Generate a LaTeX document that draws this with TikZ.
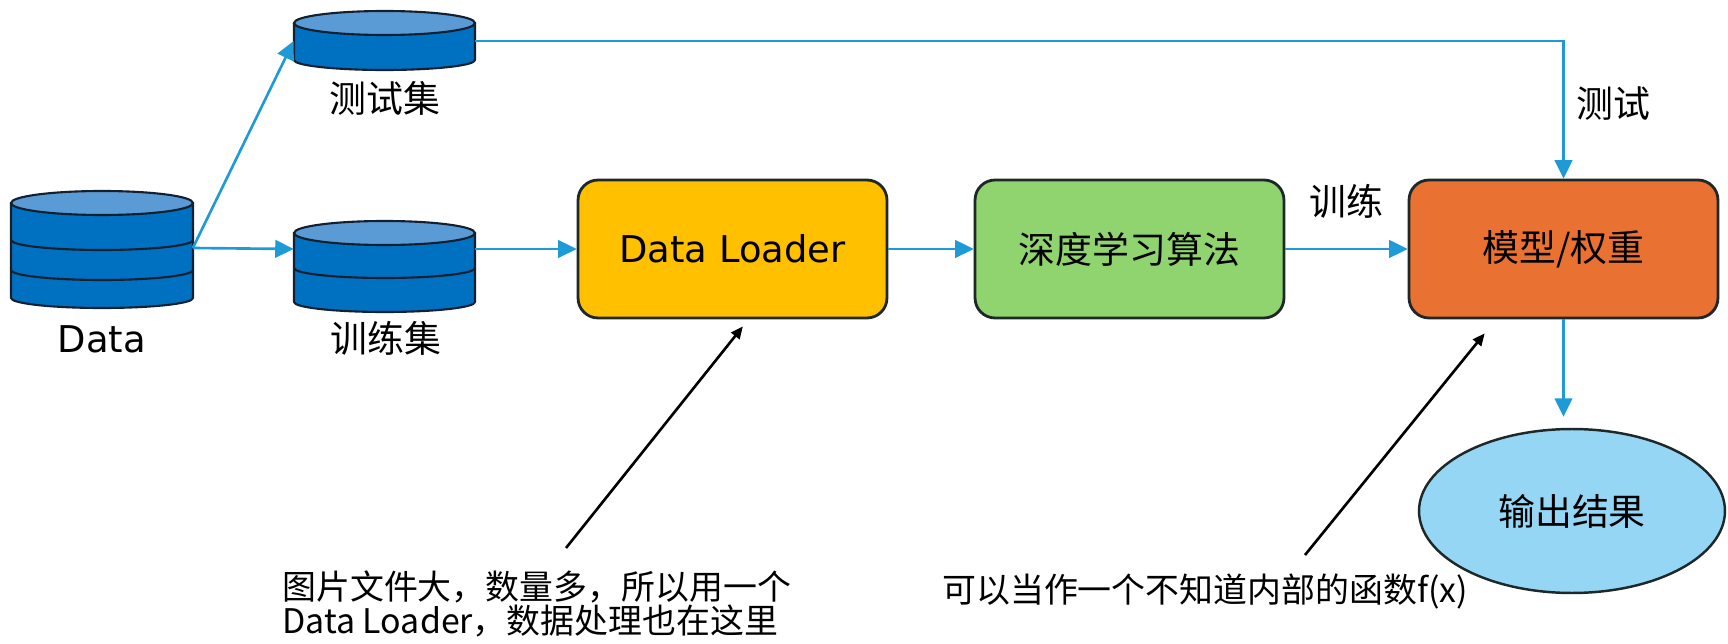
\documentclass[tikz,border=0pt]{standalone}
\usepackage{fontspec}
\setmainfont{Noto Sans CJK SC}
\newfontfamily\dejavu{DejaVu Sans}
\usepackage{tikz}
\usetikzlibrary{arrows.meta,positioning,calc,shapes.geometric}

\definecolor{dbdark}{RGB}{0,112,192}
\definecolor{dblight}{RGB}{91,155,213}
\definecolor{dbedge}{RGB}{18,32,48}
\definecolor{flowblue}{RGB}{30,155,215}
\definecolor{loaderfill}{RGB}{255,192,0}
\definecolor{algofill}{RGB}{143,212,110}
\definecolor{modelfill}{RGB}{233,113,50}
\definecolor{resultfill}{RGB}{150,214,245}
\definecolor{boxedge}{RGB}{30,40,40}

\newcommand{\bigfont}{\fontsize{21pt}{25pt}\selectfont}
\newcommand{\notefont}{\fontsize{19.3pt}{19.3pt}\selectfont}

\tikzset{
	flow/.style={draw=flowblue, line width=1.5pt, -{Triangle[length=10.5pt,width=10pt]}},
	pointer/.style={draw=black, line width=1.5pt, -{Triangle[length=7pt,width=6pt]}},
	procbox/.style={draw=boxedge, line width=1.6pt, rounded corners=0.4cm, minimum width=6.18cm, minimum height=2.76cm, inner sep=0pt, font=\bigfont},
	dbnode/.style={inner sep=0pt, minimum width=3.62cm, minimum height=1cm},
	dbline/.style={draw=dbedge, line width=1.2pt},
	lbl/.style={inner sep=0pt, font=\bigfont},
	note/.style={inner sep=0pt, align=left, anchor=west, font=\notefont},
}

% database stack: centre x, x radius, top centre y, bottom edge y
\newcommand{\dbshape}[4]{%
	\path[fill=dbdark, dbline] (#1-#2,#3) -- (#1-#2,#4) arc[start angle=180, end angle=360, x radius=#2, y radius=10] -- (#1+#2,#3);
	\path[fill=dblight, dbline] (#1,#3) ellipse [x radius=#2, y radius=12];
}

\begin{document}
\begin{tikzpicture}[x=0.02cm, y=0.02cm]
	\useasboundingbox (0,0) rectangle (1728,643);

	% data sets
	\dbshape{102}{91}{440}{345}
	\foreach \d in {403,373}
		\draw[dbline] (11,\d) arc[start angle=180, end angle=360, x radius=91, y radius=10];
	\dbshape{384.5}{90.5}{620}{583}
	\dbshape{384.5}{90.5}{410}{341}
	\draw[dbline] (294,375) arc[start angle=180, end angle=360, x radius=90.5, y radius=10];

	\node[dbnode] (data) at (102,395) {};
	\node[dbnode] (test) at (384.5,602) {};
	\node[dbnode] (train) at (384.5,394) {};
	\node[lbl] (datalbl) at (102,304) {\dejavu Data};
	\node[lbl] (testlbl) at (385,545) {测试集};
	\node[lbl] (trainlbl) at (386,305) {训练集};

	% pipeline
	\node[procbox, fill=loaderfill] (loader) at (732.5,394) {\dejavu Data Loader};
	\node[procbox, fill=algofill] (algo) at (1129.5,394) {深度学习算法};
	\node[procbox, fill=modelfill] (model) at (1563.5,394) {模型/权重};
	\node[ellipse, draw=boxedge, line width=1.4pt, fill=resultfill, minimum width=6.12cm, minimum height=3.28cm, inner sep=0pt, font=\bigfont] (result) at (1572,132) {输出结果};

	\draw[flow] (data.east) -- (test.west);
	\draw[flow] (data.east) -- (train.west);
	\draw[flow] (train.east) -- (loader.west);
	\draw[flow] (loader.east) -- (algo.west);
	\draw[flow] (algo.east) -- node[lbl, above=0.58cm] (trainstep) {训练} (model.west);
	\draw[flow] (test.east) -| (model.north);
	\node[lbl, anchor=west] (teststep) at (1576,539) {测试};
	\draw[flow, shorten >=0.22cm] (model.south) -- (model.south |- result.north);

	% notes
	\node[note] (note1) at (282,39.5) {图片文件大，数量多，所以用一个\\Data Loader，数据处理也在这里};
	\node[note] (note2) at (942,51) {可以当作一个不知道内部的函数f(x)};
	\coordinate (tail1) at (566,95);
	\coordinate (tail2) at (1305,88);
	\draw[pointer, shorten >=0.18cm] (tail1) -- ([xshift=0.32cm]loader.south);
	\draw[pointer, shorten >=0.36cm] (tail2) -- ([xshift=-1.35cm]model.south);
\end{tikzpicture}
\end{document}
